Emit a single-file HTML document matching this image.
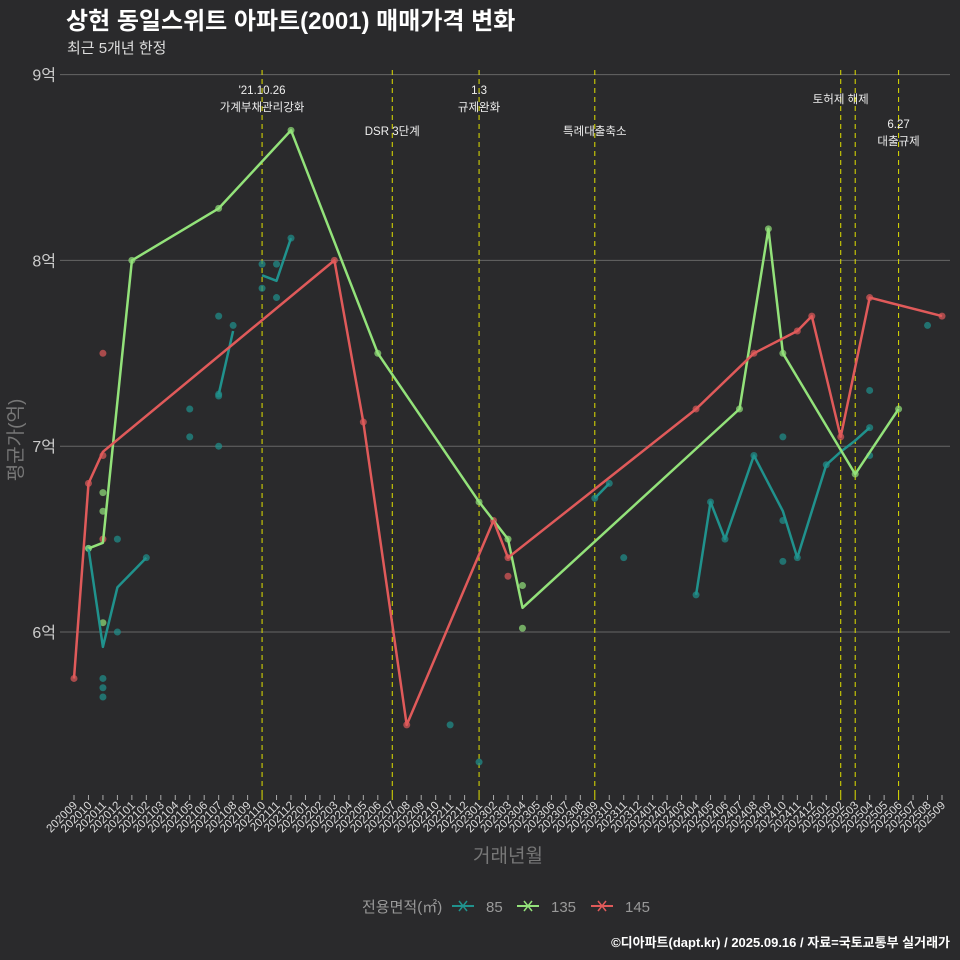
<!DOCTYPE html>
<html><head><meta charset="utf-8"><style>
html,body{margin:0;padding:0;background:#2a2a2c;overflow:hidden;width:960px;height:960px;}
svg{display:block;}
svg text{font-family:"Liberation Sans","Noto Sans CJK KR",sans-serif;}
</style></head><body>
<svg id="c" width="960" height="960" viewBox="0 0 960 960">
<rect width="960" height="960" fill="#2a2a2c"/>
<text x="66" y="29" font-size="24" font-weight="bold" fill="#ffffff">상현 동일스위트 아파트(2001) 매매가격 변화</text>
<text x="67" y="53" font-size="15" fill="#dddddd">최근 5개년 한정</text>
<g id="grid"></g><g id="vl"></g><g id="pts"></g><g id="lines"></g><g id="xt"></g>
<text transform="translate(22,440) rotate(-90)" text-anchor="middle" font-size="19" fill="#777">평균가(억)</text>
<text x="508" y="862" text-anchor="middle" font-size="19" fill="#777">거래년월</text>
<g>
<text x="362" y="912" font-size="15" fill="#999">전용면적(㎡)</text>
<g><line x1="452" y1="906" x2="474" y2="906" stroke="#20928d" stroke-width="2"/><path d="M459,901L467,911M467,901L459,911" stroke="#20928d" stroke-width="1.5"/><text x="486" y="912" font-size="15" fill="#999">85</text></g>
<g><line x1="517" y1="906" x2="539" y2="906" stroke="#93e27a" stroke-width="2"/><path d="M524,901L532,911M532,901L524,911" stroke="#93e27a" stroke-width="1.5"/><text x="551" y="912" font-size="15" fill="#999">135</text></g>
<g><line x1="591" y1="906" x2="613" y2="906" stroke="#e05a5a" stroke-width="2"/><path d="M598,901L606,911M606,901L598,911" stroke="#e05a5a" stroke-width="1.5"/><text x="625" y="912" font-size="15" fill="#999">145</text></g>
</g>
<text x="950" y="947" text-anchor="end" font-size="13" font-weight="bold" fill="#ffffff">©디아파트(dapt.kr) / 2025.09.16 / 자료=국토교통부 실거래가</text>
</svg>
<script>
const months=[];for(let y=2020,m=9;months.length<61;){months.push(y+String(m).padStart(2,'0'));m++;if(m>12){m=1;y++;}}
const yTicks=[6,7,8,9];
const yLabels=['6억','7억','8억','9억'];
const s85Idx=[1,2,3,5,10,11,13,14,15,36,37,43,44,45,47,49,50,52,53,54,55];
const s85Val=[6.45,5.92,6.24,6.40,7.28,7.62,7.92,7.89,8.12,6.72,6.80,6.20,6.70,6.50,6.95,6.65,6.40,6.90,6.97,7.03,7.10];
const s135Idx=[1,2,4,10,15,21,28,30,31,46,48,49,54,57];
const s135Val=[6.45,6.48,8.0,8.28,8.70,7.50,6.70,6.50,6.13,7.20,8.17,7.50,6.85,7.20];
const s145Idx=[0,1,2,18,20,23,29,30,43,47,50,51,53,55,60];
const s145Val=[5.75,6.80,6.97,8.0,7.13,5.50,6.60,6.40,7.20,7.50,7.62,7.70,7.05,7.80,7.70];
const p85Idx=[1,2,2,2,3,3,5,8,8,10,10,10,10,11,13,13,14,14,15,26,28,36,37,38,43,44,45,47,49,49,49,50,52,55,55,55,59];
const p85Val=[6.45,5.75,5.70,5.65,6.0,6.5,6.40,7.2,7.05,7.7,7.27,7.28,7.0,7.65,7.98,7.85,7.98,7.8,8.12,5.5,5.3,6.72,6.8,6.4,6.2,6.7,6.5,6.95,6.6,6.38,7.05,6.4,6.9,7.3,6.95,7.1,7.65];
const p135Idx=[1,2,2,2,4,10,15,21,28,30,31,31,46,48,49,54,57];
const p135Val=[6.45,6.75,6.65,6.05,8.0,8.28,8.7,7.5,6.7,6.5,6.25,6.02,7.2,8.17,7.5,6.85,7.2];
const p145Idx=[0,1,2,2,2,18,20,23,29,30,30,43,47,50,51,53,55,60];
const p145Val=[5.75,6.8,7.5,6.95,6.5,8.0,7.13,5.5,6.6,6.3,6.4,7.2,7.5,7.62,7.7,7.05,7.8,7.7];
const eventIdx=[13,22,28,36,53,54,57];
const eventLabels=[["'21.10.26","가계부채관리강화"],["DSR 3단계"],["1.3","규제완화"],["특례대출축소"],["토허제 해제"],[],["6.27","대출규제"]];
const eventY=[94,135,94,135,103,0,128];
const X=i=>74+i*(942-74)/60;
const Y=v=>632-(v-6)*185.8;
const NS='http://www.w3.org/2000/svg';
function mk(t,a,p){const e=document.createElementNS(NS,t);for(const k in a)e.setAttribute(k,a[k]);p.appendChild(e);return e;}
const g=document.getElementById('grid');
yTicks.forEach((v,k)=>{
 const l=mk('line',{x1:60,x2:950,y1:Y(v),y2:Y(v),stroke:'#666','stroke-width':1},g);
 
 
 const t=mk('text',{x:56,y:Y(v)+6,'text-anchor':'end','font-size':16,fill:'#ccc'},g);t.textContent=yLabels[k];
 
 
});
const xt=document.getElementById('xt');
months.forEach((m,i)=>{
 const ev=eventIdx.includes(i);
 const tk=mk('line',{x1:X(i),x2:X(i),y1:795,y2:800,stroke:ev?'#dddd00':'#aaa'},xt);
 
 
 const t=mk('text',{transform:`translate(${X(i)+4},806) rotate(-45)`,'text-anchor':'end','font-size':11.5,fill:'#ddd'},xt);t.textContent=m;
 
 
});
const vl=document.getElementById('vl');
eventIdx.forEach((i,k)=>{
 const l=mk('line',{x1:X(i),x2:X(i),y1:70,y2:795,stroke:'#e0e000','stroke-width':1,'stroke-dasharray':'5,4'},vl);
 
 
 eventLabels[k].forEach((s,j)=>{const t=mk('text',{x:X(i),y:eventY[k]+j*17,'text-anchor':'middle','font-size':11.5,fill:'#eee'},vl);t.textContent=s;
 
 });
});
const pts=document.getElementById('pts');
[[p85Idx,p85Val,'#20928d'],[p135Idx,p135Val,'#93e27a'],[p145Idx,p145Val,'#e05a5a']].forEach(([ix,vs,c])=>{
 ix.forEach((i,k)=>{const p=mk('circle',{cx:X(i),cy:Y(vs[k]),r:3.5,fill:c,opacity:0.7},pts);
 
 });
});
const ln=document.getElementById('lines');
[[s85Idx,s85Val,'#20928d','line-85'],[s135Idx,s135Val,'#93e27a','line-135'],[s145Idx,s145Val,'#e05a5a','line-145']].forEach(([ix,vs,c,n])=>{
 let d='';ix.forEach((i,k)=>{const brk=k>0&&n==='line-85'&&((ix[k-1]===5)||(ix[k-1]===11)||(ix[k-1]===15)||(ix[k-1]===37));d+=(k===0||brk?'M':'L')+X(i).toFixed(1)+','+Y(vs[k]).toFixed(1);});
 const p=mk('path',{d:d,fill:'none',stroke:c,'stroke-width':2.5,'stroke-linejoin':'round'},ln);
 
 
});
</script>
</body></html>
